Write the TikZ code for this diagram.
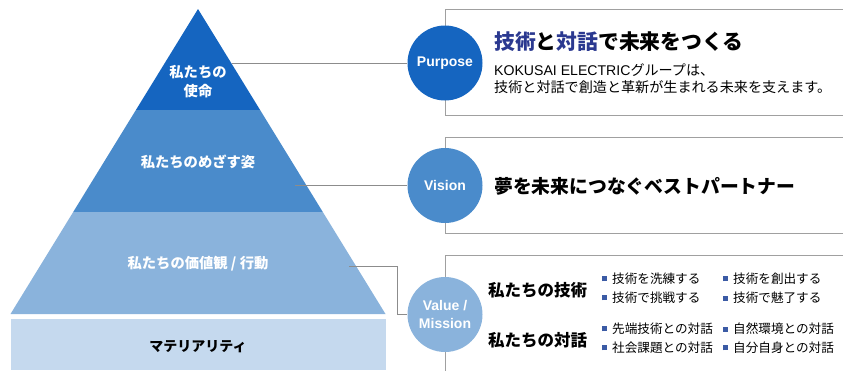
\documentclass[tikz,border=0pt]{standalone}
\usepackage{fontspec}
\setmainfont{Liberation Sans}
\newfontfamily\jp{Noto Sans CJK JP}
\usetikzlibrary{backgrounds}
\definecolor{cA}{HTML}{1565C0}
\definecolor{cB}{HTML}{4A8BCB}
\definecolor{cC}{HTML}{8AB3DC}
\definecolor{cD}{HTML}{C5D9EE}
\definecolor{navy}{HTML}{2B3990}
\definecolor{bulc}{HTML}{3B5BA5}
\definecolor{frc}{HTML}{A0A0A0}
\definecolor{lnc}{HTML}{8C8C8C}
\newcommand{\bsq}{\textcolor{bulc}{\rule[2.3pt]{5pt}{5pt}}\hspace{5pt}}
\tikzset{
  pyt/.style={text=white, align=center, inner sep=0pt, font=\jp\bfseries\fontsize{14.3}{19}\selectfont},
  circ/.style={circle, minimum size=75pt, inner sep=0pt, text=white, align=center, font=\bfseries\fontsize{14}{18}\selectfont},
  frame/.style={draw=frc, line width=1pt},
  conn/.style={draw=lnc, line width=1pt},
  rtext/.style={anchor=west, inner sep=0pt, align=left},
  bultext/.style={rtext, font=\jp\fontsize{12.6}{15}\selectfont},
  headtext/.style={rtext, font=\jp\bfseries\fontsize{16.5}{20}\selectfont}
}
\begin{document}
\begin{tikzpicture}[x=1pt,y=-1pt]
\useasboundingbox (0,0) rectangle (843,370);
\begin{scope}[on background layer]
  \fill[cA] (198,9) -- (260.1,110) -- (135.9,110) -- cycle;
  \fill[cB] (135.9,110) -- (260.1,110) -- (322.8,212) -- (73.2,212) -- cycle;
  \fill[cC] (73.2,212) -- (322.8,212) -- (385.5,314) -- (10.5,314) -- cycle;
  \fill[cD] (11,319) rectangle (386,370);
  \draw[frame] (843,9) -- (445,9) -- (445,115) -- (843,115);
  \draw[frame] (843,137) -- (445,137) -- (445,233) -- (843,233);
  \draw[frame] (843,255) -- (445,255) -- (445,371);
\end{scope}
% pyramid labels
\node[pyt] (t1) at (198,81.5) {私たちの\\使命};
\node[pyt] (t2) at (198,162) {私たちのめざす姿};
\node[pyt] (t3) at (198,264) {私たちの価値観 / 行動};
\node[pyt, text=black, font=\jp\bfseries\fontsize{14}{17}\selectfont] (t4) at (198,347) {マテリアリティ};
% circles
\node[circ, fill=cA] (pc) at (445,63) {Purpose};
\node[circ, fill=cB] (vc) at (445,185.5) {Vision};
\node[circ, fill=cC] (mc) at (445,314.5) {Value /\\Mission};
% connectors
\coordinate (a1) at (232,63);
\coordinate (a2) at (295,185.5);
\coordinate (a3) at (349,266);
\begin{scope}[on background layer]
  \draw[conn] (a1) -- (pc.west);
  \draw[conn] (a2) -- (vc.west);
  \draw[conn] (a3) -- ++(48,0) |- (mc.west);
\end{scope}
% purpose texts
\node[rtext, font=\jp\bfseries\fontsize{20.8}{24}\selectfont] (pt) at (494,42) {\textcolor{navy}{技術}と\textcolor{navy}{対話}で未来をつくる};
\node[rtext, font=\fontsize{14.1}{17}\selectfont] (ps) at (494,78.5) {KOKUSAI ELECTRIC{\jp グループは、}\\{\jp 技術と対話で創造と革新が生まれる未来を支えます。}};
% vision text
\node[rtext, font=\jp\bfseries\fontsize{18.8}{22}\selectfont] (vt) at (494,186) {夢を未来につなぐベストパートナー};
% value texts
\node[headtext] (h1) at (488,290) {私たちの技術};
\node[headtext] (h2) at (488,340) {私たちの対話};
\node[bultext] (b1) at (602,279) {\bsq 技術を洗練する};
\node[bultext] (b2) at (602,298) {\bsq 技術で挑戦する};
\node[bultext] (b3) at (723,279) {\bsq 技術を創出する};
\node[bultext] (b4) at (723,298) {\bsq 技術で魅了する};
\node[bultext] (b5) at (602,329) {\bsq 先端技術との対話};
\node[bultext] (b6) at (602,348) {\bsq 社会課題との対話};
\node[bultext] (b7) at (723,329) {\bsq 自然環境との対話};
\node[bultext] (b8) at (723,348) {\bsq 自分自身との対話};
\end{tikzpicture}
\end{document}
